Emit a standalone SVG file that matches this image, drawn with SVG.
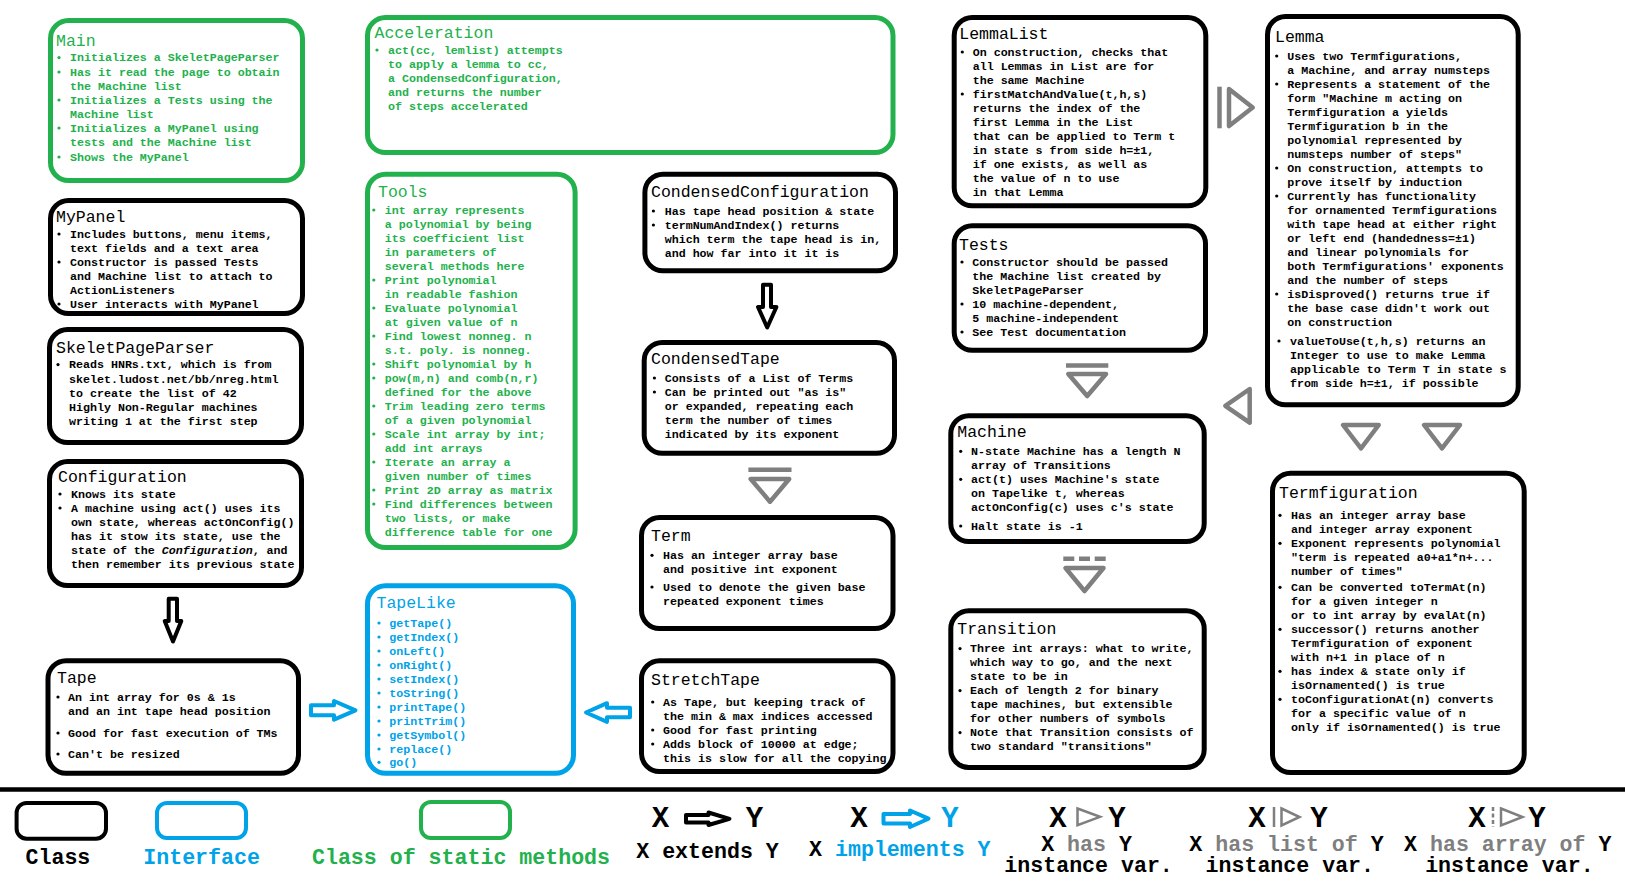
<svg xmlns="http://www.w3.org/2000/svg" width="1625" height="884" viewBox="0 0 1625 884">
<style>
text{font-family:"Liberation Mono","Courier New",monospace}
.t{font-size:16.5px}
.b{font-size:11.65px;font-weight:bold}
.box{fill:#fff;stroke-width:5}
.blk .box{stroke:#000}.blk text,.blk circle{fill:#000}
.grn .box{stroke:#22B14C}.grn text,.grn circle{fill:#22B14C}
.blu .box{stroke:#00A2E8}.blu text,.blu circle{fill:#00A2E8}
.ext{fill:#fff;stroke:#000;stroke-width:4;stroke-linejoin:round}
.imp{fill:#fff;stroke:#00A2E8;stroke-width:4;stroke-linejoin:round}
.has{fill:#fff;stroke:#7F7F7F;stroke-width:4.5;stroke-linejoin:round}
.bar{stroke:#7F7F7F;stroke-width:4.5;fill:none}
.lg{font-size:21.6px;font-weight:bold}
.xy{font-size:29px;font-weight:bold}
.lbox{fill:#fff;stroke-width:4}
.gr{fill:#7F7F7F}
</style>
<rect width="1625" height="884" fill="#fff"/>

<g id="main" class="grn">
<rect class="box" x="50.5" y="20.5" width="252" height="160" rx="18"/>
<text class="t" x="56" y="45.7">Main</text>
<g><circle cx="59" cy="57.6" r="1.6"/><circle cx="59" cy="72" r="1.6"/><circle cx="59" cy="100" r="1.6"/><circle cx="59" cy="128" r="1.6"/><circle cx="59" cy="157" r="1.6"/></g>
<text class="b"><tspan x="70" y="61.3">Initializes a SkeletPageParser</tspan><tspan x="70" y="75.7">Has it read the page to obtain</tspan><tspan x="70" y="89.7">the Machine list</tspan><tspan x="70" y="103.7">Initializes a Tests using the</tspan><tspan x="70" y="117.7">Machine list</tspan><tspan x="70" y="131.7">Initializes a MyPanel using</tspan><tspan x="70" y="145.7">tests and the Machine list</tspan><tspan x="70" y="160.7">Shows the MyPanel</tspan></text>
</g>

<g id="mypanel" class="blk">
<rect class="box" x="50.5" y="200.5" width="252" height="113" rx="18"/>
<text class="t" x="56" y="222">MyPanel</text>
<g><circle cx="59" cy="234" r="1.6"/><circle cx="59" cy="262" r="1.6"/><circle cx="59" cy="304" r="1.6"/></g>
<text class="b"><tspan x="70" y="237.7">Includes buttons, menu items,</tspan><tspan x="70" y="251.7">text fields and a text area</tspan><tspan x="70" y="265.7">Constructor is passed Tests</tspan><tspan x="70" y="279.7">and Machine list to attach to</tspan><tspan x="70" y="293.7">ActionListeners</tspan><tspan x="70" y="307.7">User interacts with MyPanel</tspan></text>
</g>

<g id="skeletpageparser" class="blk">
<rect class="box" x="49.5" y="329.5" width="252" height="113" rx="18"/>
<text class="t" x="56" y="352.7">SkeletPageParser</text>
<circle cx="58" cy="364.6" r="1.6"/>
<text class="b"><tspan x="69" y="368.3">Reads HNRs.txt, which is from</tspan><tspan x="69" y="382.7">skelet.ludost.net/bb/nreg.html</tspan><tspan x="69" y="396.7">to create the list of 42</tspan><tspan x="69" y="410.7">Highly Non-Regular machines</tspan><tspan x="69" y="424.7">writing 1 at the first step</tspan></text>
</g>

<g id="configuration" class="blk">
<rect class="box" x="49.5" y="461.5" width="252" height="124" rx="18"/>
<text class="t" x="58" y="481.7">Configuration</text>
<g><circle cx="60" cy="494" r="1.6"/><circle cx="60" cy="508" r="1.6"/></g>
<text class="b"><tspan x="71" y="497.7">Knows its state</tspan><tspan x="71" y="511.7">A machine using act() uses its</tspan><tspan x="71" y="525.7">own state, whereas actOnConfig()</tspan><tspan x="71" y="539.7">has it stow its state, use the</tspan><tspan x="71" y="553.7">state of the <tspan font-style="italic">Configuration</tspan>, and</tspan><tspan x="71" y="567.7">then remember its previous state</tspan></text>
</g>

<g id="tape" class="blk">
<rect class="box" x="48" y="660.8" width="250.5" height="112.4" rx="18"/>
<text class="t" x="57" y="682.7">Tape</text>
<g><circle cx="58" cy="697" r="1.6"/><circle cx="58" cy="733" r="1.6"/><circle cx="58" cy="754" r="1.6"/></g>
<text class="b"><tspan x="68" y="700.7">An int array for 0s &amp; 1s</tspan><tspan x="68" y="714.7">and an int tape head position</tspan><tspan x="68" y="736.7">Good for fast execution of TMs</tspan><tspan x="68" y="757.7">Can't be resized</tspan></text>
</g>

<g id="acceleration" class="grn">
<rect class="box" x="367.5" y="17.5" width="525.5" height="135" rx="18"/>
<text class="t" x="374.5" y="38.3">Acceleration</text>
<circle cx="377" cy="50" r="1.6"/>
<text class="b"><tspan x="388" y="53.7">act(cc, lemlist) attempts</tspan><tspan x="388" y="67.7">to apply a lemma to cc,</tspan><tspan x="388" y="81.7">a CondensedConfiguration,</tspan><tspan x="388" y="95.7">and returns the number</tspan><tspan x="388" y="109.7">of steps accelerated</tspan></text>
</g>

<g id="tools" class="grn">
<rect class="box" x="367.5" y="174.2" width="207.6" height="373.3" rx="18"/>
<text class="t" x="378" y="196.7">Tools</text>
<g><circle cx="373.8" cy="210" r="1.6"/><circle cx="373.8" cy="280" r="1.6"/><circle cx="373.8" cy="308" r="1.6"/><circle cx="373.8" cy="336" r="1.6"/><circle cx="373.8" cy="364" r="1.6"/><circle cx="373.8" cy="378" r="1.6"/><circle cx="373.8" cy="406" r="1.6"/><circle cx="373.8" cy="434" r="1.6"/><circle cx="373.8" cy="462" r="1.6"/><circle cx="373.8" cy="490" r="1.6"/><circle cx="373.8" cy="504" r="1.6"/></g>
<text class="b"><tspan x="384.8" y="213.7">int array represents</tspan><tspan x="384.8" y="227.7">a polynomial by being</tspan><tspan x="384.8" y="241.7">its coefficient list</tspan><tspan x="384.8" y="255.7">in parameters of</tspan><tspan x="384.8" y="269.7">several methods here</tspan><tspan x="384.8" y="283.7">Print polynomial</tspan><tspan x="384.8" y="297.7">in readable fashion</tspan><tspan x="384.8" y="311.7">Evaluate polynomial</tspan><tspan x="384.8" y="325.7">at given value of n</tspan><tspan x="384.8" y="339.7">Find lowest nonneg. n</tspan><tspan x="384.8" y="353.7">s.t. poly. is nonneg.</tspan><tspan x="384.8" y="367.7">Shift polynomial by h</tspan><tspan x="384.8" y="381.7">pow(m,n) and comb(n,r)</tspan><tspan x="384.8" y="395.7">defined for the above</tspan><tspan x="384.8" y="409.7">Trim leading zero terms</tspan><tspan x="384.8" y="423.7">of a given polynomial</tspan><tspan x="384.8" y="437.7">Scale int array by int;</tspan><tspan x="384.8" y="451.7">add int arrays</tspan><tspan x="384.8" y="465.7">Iterate an array a</tspan><tspan x="384.8" y="479.7">given number of times</tspan><tspan x="384.8" y="493.7">Print 2D array as matrix</tspan><tspan x="384.8" y="507.7">Find differences between</tspan><tspan x="384.8" y="521.7">two lists, or make</tspan><tspan x="384.8" y="535.7">difference table for one</tspan></text>
</g>

<g id="tapelike" class="blu">
<rect class="box" x="367.5" y="585.8" width="206" height="187.4" rx="18"/>
<text class="t" x="376.5" y="608.3">TapeLike</text>
<g><circle cx="379" cy="623" r="1.6"/><circle cx="379" cy="637" r="1.6"/><circle cx="379" cy="651" r="1.6"/><circle cx="379" cy="665" r="1.6"/><circle cx="379" cy="679" r="1.6"/><circle cx="379" cy="693" r="1.6"/><circle cx="379" cy="707" r="1.6"/><circle cx="379" cy="721" r="1.6"/><circle cx="379" cy="735" r="1.6"/><circle cx="379" cy="749" r="1.6"/><circle cx="379" cy="762.3" r="1.6"/></g>
<text class="b"><tspan x="389.3" y="626.7">getTape()</tspan><tspan x="389.3" y="640.7">getIndex()</tspan><tspan x="389.3" y="654.7">onLeft()</tspan><tspan x="389.3" y="668.7">onRight()</tspan><tspan x="389.3" y="682.7">setIndex()</tspan><tspan x="389.3" y="696.7">toString()</tspan><tspan x="389.3" y="710.7">printTape()</tspan><tspan x="389.3" y="724.7">printTrim()</tspan><tspan x="389.3" y="738.7">getSymbol()</tspan><tspan x="389.3" y="752.7">replace()</tspan><tspan x="389.3" y="766">go()</tspan></text>
</g>

<g id="condensedconfiguration" class="blk">
<rect class="box" x="644.9" y="174.2" width="250.6" height="96.6" rx="18"/>
<text class="t" x="651" y="196.7">CondensedConfiguration</text>
<g><circle cx="653.4" cy="211" r="1.6"/><circle cx="653.4" cy="225" r="1.6"/></g>
<text class="b"><tspan x="664.7" y="214.7">Has tape head position &amp; state</tspan><tspan x="664.7" y="228.7">termNumAndIndex() returns</tspan><tspan x="664.7" y="242.7">which term the tape head is in,</tspan><tspan x="664.7" y="256.7">and how far into it it is</tspan></text>
</g>

<g id="condensedtape" class="blk">
<rect class="box" x="644.2" y="342.5" width="250.3" height="110.7" rx="18"/>
<text class="t" x="651" y="363.7">CondensedTape</text>
<g><circle cx="654.4" cy="378" r="1.6"/><circle cx="654.4" cy="392" r="1.6"/></g>
<text class="b"><tspan x="664.7" y="381.7">Consists of a List of Terms</tspan><tspan x="664.7" y="395.7">Can be printed out "as is"</tspan><tspan x="664.7" y="409.7">or expanded, repeating each</tspan><tspan x="664.7" y="423.7">term the number of times</tspan><tspan x="664.7" y="437.7">indicated by its exponent</tspan></text>
</g>

<g id="term" class="blk">
<rect class="box" x="641.5" y="517.5" width="251.5" height="111" rx="18"/>
<text class="t" x="651" y="540.7">Term</text>
<g><circle cx="652" cy="555.3" r="1.6"/><circle cx="652" cy="587" r="1.6"/></g>
<text class="b"><tspan x="663" y="559">Has an integer array base</tspan><tspan x="663" y="572.7">and positive int exponent</tspan><tspan x="663" y="590.7">Used to denote the given base</tspan><tspan x="663" y="604.7">repeated exponent times</tspan></text>
</g>

<g id="stretchtape" class="blk">
<rect class="box" x="641.5" y="660.8" width="251.5" height="110.7" rx="18"/>
<text class="t" x="651" y="685">StretchTape</text>
<g><circle cx="652.7" cy="702" r="1.6"/><circle cx="652.7" cy="730" r="1.6"/><circle cx="652.7" cy="744" r="1.6"/></g>
<text class="b"><tspan x="663" y="705.7">As Tape, but keeping track of</tspan><tspan x="663" y="719.7">the min &amp; max indices accessed</tspan><tspan x="663" y="733.7">Good for fast printing</tspan><tspan x="663" y="747.7">Adds block of 10000 at edge;</tspan><tspan x="663" y="761.7">this is slow for all the copying</tspan></text>
</g>

<g id="lemmalist" class="blk">
<rect class="box" x="954.2" y="17.5" width="251.6" height="188.3" rx="18"/>
<text class="t" x="959.3" y="39.3">LemmaList</text>
<g><circle cx="962.3" cy="52" r="1.6"/><circle cx="962.3" cy="94" r="1.6"/></g>
<text class="b"><tspan x="972.7" y="55.7">On construction, checks that</tspan><tspan x="972.7" y="69.7">all Lemmas in List are for</tspan><tspan x="972.7" y="83.7">the same Machine</tspan><tspan x="972.7" y="97.7">firstMatchAndValue(t,h,s)</tspan><tspan x="972.7" y="111.7">returns the index of the</tspan><tspan x="972.7" y="125.7">first Lemma in the List</tspan><tspan x="972.7" y="139.7">that can be applied to Term t</tspan><tspan x="972.7" y="153.7">in state s from side h=±1,</tspan><tspan x="972.7" y="167.7">if one exists, as well as</tspan><tspan x="972.7" y="181.7">the value of n to use</tspan><tspan x="972.7" y="195.7">in that Lemma</tspan></text>
</g>

<g id="tests" class="blk">
<rect class="box" x="954.2" y="225.8" width="251.3" height="124.4" rx="18"/>
<text class="t" x="959" y="250">Tests</text>
<g><circle cx="962" cy="262" r="1.6"/><circle cx="962" cy="304" r="1.6"/><circle cx="962" cy="332" r="1.6"/></g>
<text class="b"><tspan x="972.3" y="265.7">Constructor should be passed</tspan><tspan x="972.3" y="279.7">the Machine list created by</tspan><tspan x="972.3" y="293.7">SkeletPageParser</tspan><tspan x="972.3" y="307.7">10 machine-dependent,</tspan><tspan x="972.3" y="321.7">5 machine-independent</tspan><tspan x="972.3" y="335.7">See Test documentation</tspan></text>
</g>

<g id="machine" class="blk">
<rect class="box" x="950.8" y="415.8" width="253.4" height="125.7" rx="18"/>
<text class="t" x="957.3" y="436.7">Machine</text>
<g><circle cx="960.7" cy="451.3" r="1.6"/><circle cx="960.7" cy="479.3" r="1.6"/><circle cx="960.7" cy="526" r="1.6"/></g>
<text class="b"><tspan x="971" y="455">N-state Machine has a length N</tspan><tspan x="971" y="469">array of Transitions</tspan><tspan x="971" y="483">act(t) uses Machine's state</tspan><tspan x="971" y="497">on Tapelike t, whereas</tspan><tspan x="971" y="511">actOnConfig(c) uses c's state</tspan><tspan x="971" y="529.7">Halt state is -1</tspan></text>
</g>

<g id="transition" class="blk">
<rect class="box" x="950.8" y="610.8" width="253.4" height="156.7" rx="18"/>
<text class="t" x="957.3" y="634.3">Transition</text>
<g><circle cx="960" cy="648.6" r="1.6"/><circle cx="960" cy="690.6" r="1.6"/><circle cx="960" cy="732.6" r="1.6"/></g>
<text class="b"><tspan x="970" y="652.3">Three int arrays: what to write,</tspan><tspan x="970" y="666.3">which way to go, and the next</tspan><tspan x="970" y="680.3">state to be in</tspan><tspan x="970" y="694.3">Each of length 2 for binary</tspan><tspan x="970" y="708.3">tape machines, but extensible</tspan><tspan x="970" y="722.3">for other numbers of symbols</tspan><tspan x="970" y="736.3">Note that Transition consists of</tspan><tspan x="970" y="750.3">two standard "transitions"</tspan></text>
</g>

<g id="lemma" class="blk">
<rect class="box" x="1267.5" y="16.5" width="250.7" height="388.3" rx="18"/>
<text class="t" x="1275" y="41.7">Lemma</text>
<g><circle cx="1276.7" cy="56" r="1.6"/><circle cx="1276.7" cy="84" r="1.6"/><circle cx="1276.7" cy="168" r="1.6"/><circle cx="1276.7" cy="196" r="1.6"/><circle cx="1276.7" cy="294" r="1.6"/><circle cx="1279" cy="341" r="1.6"/></g>
<text class="b"><tspan x="1287.3" y="59.7">Uses two Termfigurations,</tspan><tspan x="1287.3" y="73.7">a Machine, and array numsteps</tspan><tspan x="1287.3" y="87.7">Represents a statement of the</tspan><tspan x="1287.3" y="101.7">form "Machine m acting on</tspan><tspan x="1287.3" y="115.7">Termfiguration a yields</tspan><tspan x="1287.3" y="129.7">Termfiguration b in the</tspan><tspan x="1287.3" y="143.7">polynomial represented by</tspan><tspan x="1287.3" y="157.7">numsteps number of steps"</tspan><tspan x="1287.3" y="171.7">On construction, attempts to</tspan><tspan x="1287.3" y="185.7">prove itself by induction</tspan><tspan x="1287.3" y="199.7">Currently has functionality</tspan><tspan x="1287.3" y="213.7">for ornamented Termfigurations</tspan><tspan x="1287.3" y="227.7">with tape head at either right</tspan><tspan x="1287.3" y="241.7">or left end (handedness=±1)</tspan><tspan x="1287.3" y="255.7">and linear polynomials for</tspan><tspan x="1287.3" y="269.7">both Termfigurations' exponents</tspan><tspan x="1287.3" y="283.7">and the number of steps</tspan><tspan x="1287.3" y="297.7">isDisproved() returns true if</tspan><tspan x="1287.3" y="311.7">the base case didn't work out</tspan><tspan x="1287.3" y="325.7">on construction</tspan><tspan x="1290" y="344.7">valueToUse(t,h,s) returns an</tspan><tspan x="1290" y="358.7">Integer to use to make Lemma</tspan><tspan x="1290" y="372.7">applicable to Term T in state s</tspan><tspan x="1290" y="386.7">from side h=±1, if possible</tspan></text>
</g>

<g id="termfiguration" class="blk">
<rect class="box" x="1272.5" y="473.2" width="251.7" height="299.3" rx="18"/>
<text class="t" x="1279" y="498.3">Termfiguration</text>
<g><circle cx="1280" cy="515.3" r="1.6"/><circle cx="1280" cy="543.3" r="1.6"/><circle cx="1280" cy="587.3" r="1.6"/><circle cx="1280" cy="629.3" r="1.6"/><circle cx="1280" cy="671.3" r="1.6"/><circle cx="1280" cy="699.3" r="1.6"/></g>
<text class="b"><tspan x="1291" y="519">Has an integer array base</tspan><tspan x="1291" y="533">and integer array exponent</tspan><tspan x="1291" y="547">Exponent represents polynomial</tspan><tspan x="1291" y="561">"term is repeated a0+a1*n+...</tspan><tspan x="1291" y="575">number of times"</tspan><tspan x="1291" y="591">Can be converted toTermAt(n)</tspan><tspan x="1291" y="605">for a given integer n</tspan><tspan x="1291" y="619">or to int array by evalAt(n)</tspan><tspan x="1291" y="633">successor() returns another</tspan><tspan x="1291" y="647">Termfiguration of exponent</tspan><tspan x="1291" y="661">with n+1 in place of n</tspan><tspan x="1291" y="675">has index &amp; state only if</tspan><tspan x="1291" y="689">isOrnamented() is true</tspan><tspan x="1291" y="703">toConfigurationAt(n) converts</tspan><tspan x="1291" y="717">for a specific value of n</tspan><tspan x="1291" y="731">only if isOrnamented() is true</tspan></text>
</g>

<g id="connectors">
<path class="ext" d="M168.7,598.7 H177 V621 H181.3 L173,641.5 L164.7,621 H168.7 Z"/>
<path class="ext" d="M763,284.7 H771 V307 H776.4 L767.2,327.5 L758,307 H763 Z"/>
<path class="imp" d="M311,705.3 H334 V701 L355.5,710.3 L334,719.7 V715.3 H311 Z"/>
<path class="imp" d="M630,707.8 H607 V703.2 L586,712.5 L607,721.8 V717.2 H630 Z"/>
<line class="bar" x1="1219.5" y1="86.7" x2="1219.5" y2="128.3"/>
<polygon class="has" points="1229,89 1252.7,107.5 1229,126"/>
<polygon class="has" points="1249.7,389 1225.3,405.8 1249.7,422.7"/>
<polygon class="has" points="1343,425 1378.7,425 1361,448.4"/>
<polygon class="has" points="1424,425 1460,425 1442,448.4"/>
<line class="bar" x1="748.4" y1="469.7" x2="791.5" y2="469.7"/>
<polygon class="has" points="750.7,479 789.2,479 770,501.7"/>
<line class="bar" x1="1066" y1="365.5" x2="1108.3" y2="365.5"/>
<polygon class="has" points="1068.3,374 1106,374 1087.2,396"/>
<line class="bar" x1="1063.3" y1="558.7" x2="1105.7" y2="558.7" stroke-dasharray="11 4.7"/>
<polygon class="has" points="1065.5,568 1103.5,568 1084.5,591"/>
</g>

<g id="legend">
<line x1="0" y1="789.5" x2="1625" y2="789.5" stroke="#000" stroke-width="4.3"/>
<rect class="lbox" x="16.6" y="803" width="89.4" height="35.7" rx="10" stroke="#000"/>
<rect class="lbox" x="157" y="803" width="89" height="35" rx="10" stroke="#00A2E8"/>
<rect class="lbox" x="421" y="802" width="89" height="36" rx="10" stroke="#22B14C"/>
<text class="lg" x="57.9" y="864.3" text-anchor="middle">Class</text>
<text class="lg" x="201.6" y="864.3" text-anchor="middle" fill="#00A2E8">Interface</text>
<text class="lg" x="461" y="864.3" text-anchor="middle" fill="#22B14C">Class of static methods</text>

<text class="xy" x="660.4" y="826.5" text-anchor="middle">X</text>
<path class="ext" d="M686,815 H708.5 V812.5 L729.5,818.8 L708.5,825 V822.5 H686 Z"/>
<text class="xy" x="754.5" y="826.5" text-anchor="middle">Y</text>
<text class="lg" x="707.5" y="857.7" text-anchor="middle">X extends Y</text>

<text class="xy" x="859" y="826.5" text-anchor="middle">X</text>
<path class="imp" d="M883.5,814 H910 V810.5 L928.5,818.7 L910,827 V823.4 H883.5 Z"/>
<text class="xy" x="950" y="826.5" text-anchor="middle" fill="#00A2E8">Y</text>
<text class="lg" x="899.8" y="856" text-anchor="middle">X <tspan fill="#00A2E8">implements Y</tspan></text>

<text class="xy" x="1058" y="826.5" text-anchor="middle">X</text>
<polygon points="1077.5,808.5 1100,816.8 1077.5,825.2" fill="#fff" stroke="#7F7F7F" stroke-width="2.5"/>
<text class="xy" x="1117" y="826.5" text-anchor="middle">Y</text>
<text class="lg" x="1086.5" y="851" text-anchor="middle">X <tspan class="gr">has</tspan> Y</text>
<text class="lg" x="1088.6" y="872" text-anchor="middle">instance var.</text>

<text class="xy" x="1257" y="826.5" text-anchor="middle">X</text>
<line x1="1274" y1="807" x2="1274" y2="827" stroke="#7F7F7F" stroke-width="2.5"/>
<polygon points="1281.5,808.5 1299.5,817 1281.5,825.5" fill="#fff" stroke="#7F7F7F" stroke-width="2.5"/>
<text class="xy" x="1319" y="826.5" text-anchor="middle">Y</text>
<text class="lg" x="1286.5" y="851" text-anchor="middle">X <tspan class="gr">has list of</tspan> Y</text>
<text class="lg" x="1289.8" y="872" text-anchor="middle">instance var.</text>

<text class="xy" x="1477" y="826.5" text-anchor="middle">X</text>
<line x1="1493" y1="807" x2="1493" y2="827" stroke="#7F7F7F" stroke-width="2.5" stroke-dasharray="4 2.5"/>
<polygon points="1501,808.5 1522.5,817 1501,825.5" fill="#fff" stroke="#7F7F7F" stroke-width="2.5"/>
<text class="xy" x="1537" y="826.5" text-anchor="middle">Y</text>
<text class="lg" x="1507.8" y="851" text-anchor="middle">X <tspan class="gr">has array of</tspan> Y</text>
<text class="lg" x="1509.4" y="872" text-anchor="middle">instance var.</text>
</g>
</svg>
